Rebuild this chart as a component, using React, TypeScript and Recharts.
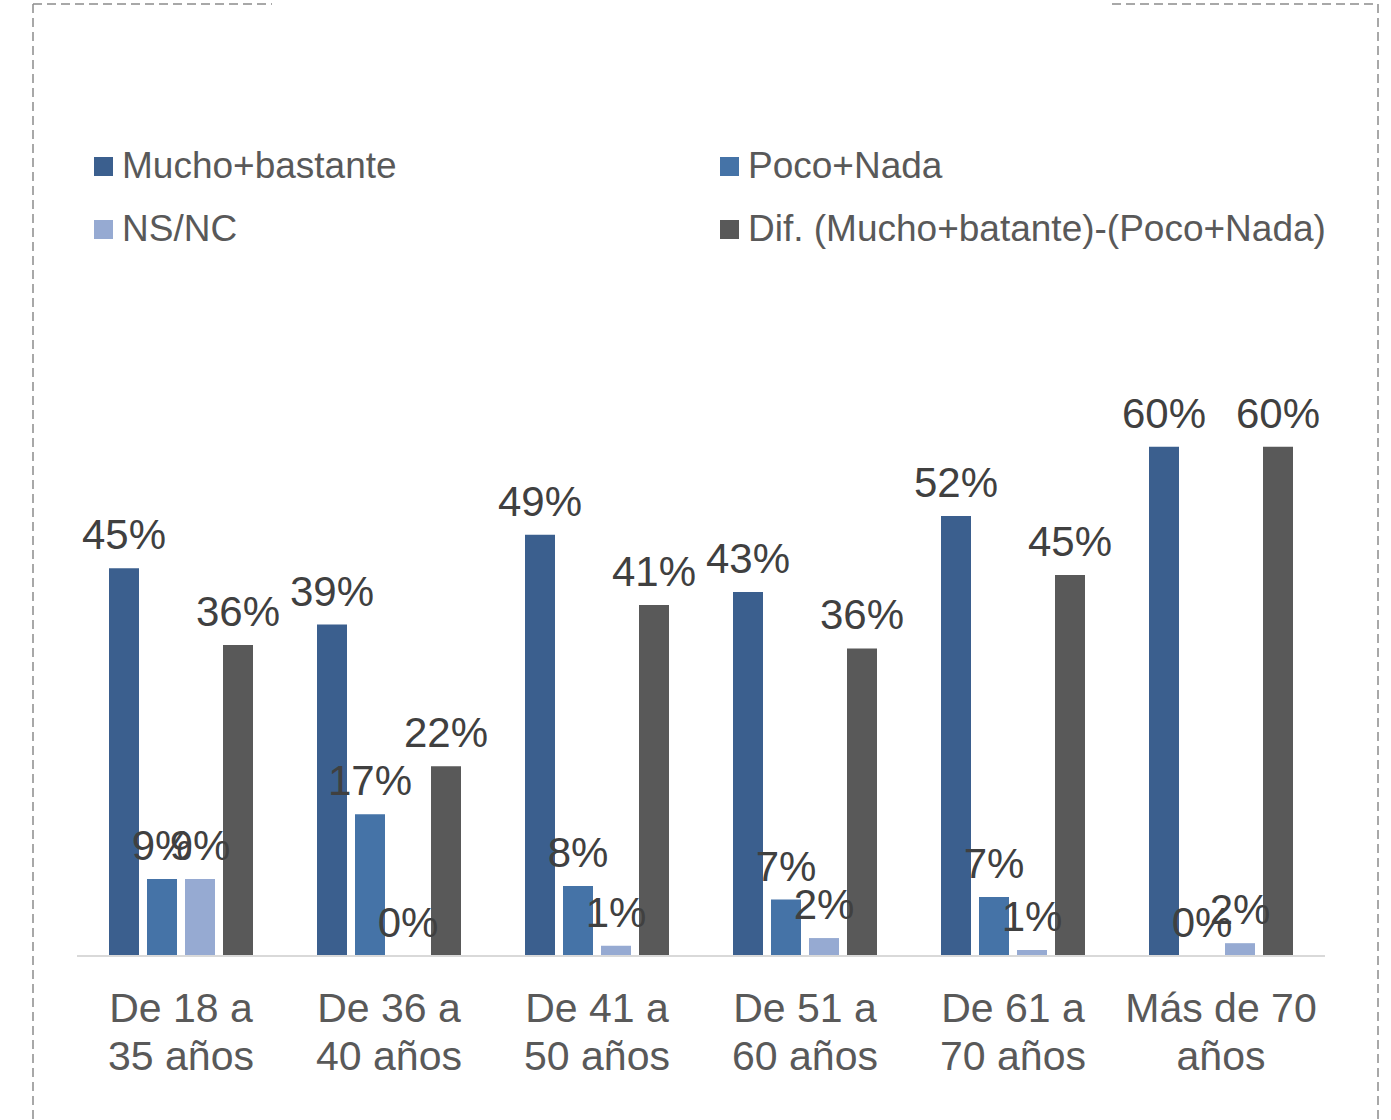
import React from "react";
import { BarChart, Bar, XAxis, YAxis, Legend, LabelList } from "recharts";

// ---- data ----
const categories = [
  "De 18 a 35 años",
  "De 36 a 40 años",
  "De 41 a 50 años",
  "De 51 a 60 años",
  "De 61 a 70 años",
  "Más de 70 años",
];
const tickLabels = [
  ["De 18 a", "35 años"],
  ["De 36 a", "40 años"],
  ["De 41 a", "50 años"],
  ["De 51 a", "60 años"],
  ["De 61 a", "70 años"],
  ["Más de 70", "años"],
];
const muchoBastante = [45.4, 38.8, 49.3, 42.6, 51.5, 59.6];
const pocoNada = [9.0, 16.6, 8.2, 6.6, 6.9, 0];
const nsnc = [9.0, 0, 1.2, 2.1, 0.7, 1.5];
const diferencia = [36.4, 22.2, 41.1, 36.0, 44.6, 59.6];

const seriesNames = [
  "Mucho+bastante",
  "Poco+Nada",
  "NS/NC",
  "Dif. (Mucho+batante)-(Poco+Nada)",
];

const data = categories.map((c, i) => ({
  cat: c,
  mucho: muchoBastante[i],
  poco: pocoNada[i],
  ns: nsnc[i],
  dif: diferencia[i],
}));

const FONT = "'Liberation Sans', Arial, Helvetica, sans-serif";
const colors = ["#3B5F8E", "#4573A7", "#96AAD2", "#595959"];

const fmt = (v: any) => `${Math.round(Number(v))}%`;

const Tick = (props: any) => {
  const { x, y, payload } = props;
  const idx = categories.indexOf(payload.value);
  const lines = tickLabels[idx] || [String(payload.value)];
  return (
    <text
      x={x}
      y={y}
      textAnchor="middle"
      fill="#595959"
      fontFamily={FONT}
      fontSize={41}
    >
      {lines.map((l, i) => (
        <tspan key={i} x={x} dy={i === 0 ? 66 : 48}>
          {l}
        </tspan>
      ))}
    </text>
  );
};

const legendPos = [
  { left: 94, top: 166 },
  { left: 720, top: 166 },
  { left: 94, top: 229 },
  { left: 720, top: 229 },
];

const LegendContent = (props: any) => {
  const payload = props.payload || [];
  return (
    <div style={{ position: "relative", width: 1391, height: 300 }}>
      {payload.map((p: any, i: number) => {
        const k = Math.max(0, seriesNames.indexOf(p.value));
        return (
          <div
            key={i}
            style={{
              position: "absolute",
              left: legendPos[k].left,
              top: legendPos[k].top - 20,
              height: 40,
              display: "flex",
              alignItems: "center",
              whiteSpace: "nowrap",
            }}
          >
            <div
              style={{
                width: 19,
                height: 19,
                background: p.color,
                marginRight: 9,
              }}
            />
            <span
              style={{
                fontFamily: FONT,
                fontSize: 37,
                color: "#595959",
                lineHeight: "40px",
              }}
            >
              {p.value}
            </span>
          </div>
        );
      })}
    </div>
  );
};

const ValueLabel = (props: any) => {
  const { x, y, width, value } = props;
  if (value === undefined || value === null) return null;
  return (
    <text
      x={Number(x) + Number(width) / 2}
      y={Number(y) - 19}
      textAnchor="middle"
      fontFamily={FONT}
      fontSize={42}
      fill="#404040"
    >
      {fmt(value)}
    </text>
  );
};

// zero-valued bars get a hairline so their "0%" label is still placed
const minSize = (v: any) => (Number(v) === 0 ? 0.01 : 0);

export default function App() {
  return (
    <div
      style={{
        position: "absolute",
        left: 0,
        top: 0,
        width: 1391,
        height: 1120,
        background: "#fff",
        overflow: "hidden",
      }}
    >
      <svg
        width={1391}
        height={1120}
        style={{ position: "absolute", left: 0, top: 0 }}
      >
        <g stroke="#8C8C8C" strokeWidth={1.5} strokeDasharray="9 5" fill="none">
          <line x1={33} y1={4} x2={272} y2={4} />
          <line x1={1112} y1={4} x2={1378} y2={4} />
          <line x1={33} y1={4} x2={33} y2={1120} />
          <line x1={1378} y1={4} x2={1378} y2={1120} />
        </g>
      </svg>
      <div style={{ position: "absolute", left: 0, top: 0 }}>
        <BarChart
          width={1391}
          height={1120}
          data={data}
          margin={{ top: 358, right: 66, bottom: 44, left: 77 }}
          barGap={8}
          barSize={30}
        >
          <XAxis
            dataKey="cat"
            height={120}
            interval={0}
            tickLine={false}
            tickSize={0}
            tickMargin={0}
            axisLine={{ stroke: "#D9D9D9", strokeWidth: 2 }}
            tick={<Tick />}
          />
          <YAxis hide width={0} domain={[0, 70]} />
          <Legend
            layout="horizontal"
            verticalAlign="middle"
            align="center"
            wrapperStyle={{ top: 0, left: 0, width: 1391, height: 300 }}
            content={<LegendContent />}
          />
          <Bar dataKey="mucho" name={seriesNames[0]} fill={colors[0]} minPointSize={minSize} isAnimationActive={false}>
            <LabelList content={<ValueLabel />} />
          </Bar>
          <Bar dataKey="poco" name={seriesNames[1]} fill={colors[1]} minPointSize={minSize} isAnimationActive={false}>
            <LabelList content={<ValueLabel />} />
          </Bar>
          <Bar dataKey="ns" name={seriesNames[2]} fill={colors[2]} minPointSize={minSize} isAnimationActive={false}>
            <LabelList content={<ValueLabel />} />
          </Bar>
          <Bar dataKey="dif" name={seriesNames[3]} fill={colors[3]} minPointSize={minSize} isAnimationActive={false}>
            <LabelList content={<ValueLabel />} />
          </Bar>
        </BarChart>
      </div>
    </div>
  );
}
